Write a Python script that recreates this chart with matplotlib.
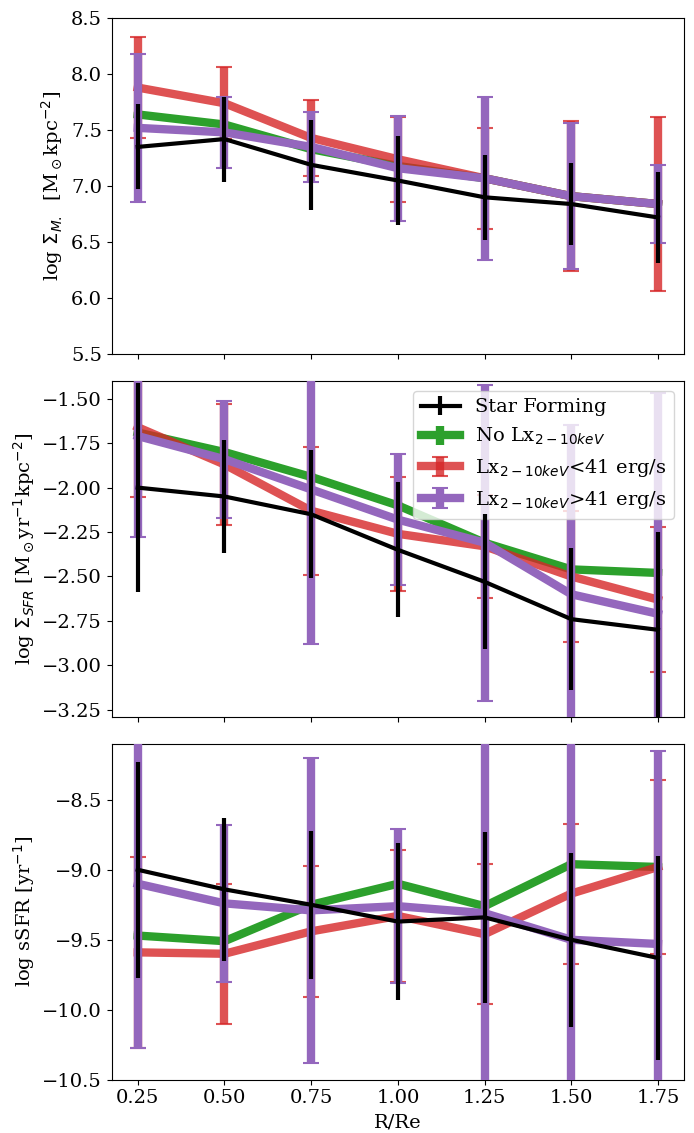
import matplotlib
matplotlib.use('Agg')
import matplotlib.pyplot as plt
import numpy as np

plt.rcParams['font.family'] = 'serif'
plt.rcParams['font.size'] = 14

r = [0.25, 0.50, 0.75, 1.00, 1.25, 1.50, 1.75]

# stellar mass surface density
sf_mass = [7.35, 7.42, 7.19, 7.05, 6.90, 6.84, 6.72]
sf_mass_err = [0.38, 0.38, 0.40, 0.40, 0.38, 0.37, 0.41]
nolx_mass = [7.64, 7.55, 7.33, 7.18, 7.07, 6.91, 6.84]
nolx_mass_err = [0.02, 0.02, 0.02, 0.02, 0.02, 0.02, 0.02]
lowlx_mass = [7.88, 7.74, 7.43, 7.24, 7.07, 6.91, 6.84]
lowlx_mass_err = [0.45, 0.32, 0.34, 0.38, 0.45, 0.67, 0.78]
hilx_mass = [7.52, 7.48, 7.35, 7.16, 7.07, 6.91, 6.84]
hilx_mass_err = [0.66, 0.32, 0.31, 0.47, 0.73, 0.65, 0.35]

# SFR surface density
sf_sfr = [-2.00, -2.05, -2.15, -2.35, -2.53, -2.74, -2.80]
sf_sfr_err = [0.59, 0.32, 0.36, 0.38, 0.38, 0.40, 0.55]
nolx_sfr = [-1.69, -1.80, -1.94, -2.10, -2.31, -2.46, -2.48]
nolx_sfr_err = [0.02, 0.02, 0.02, 0.02, 0.02, 0.02, 0.02]
lowlx_sfr = [-1.66, -1.87, -2.13, -2.26, -2.33, -2.50, -2.63]
lowlx_sfr_err = [0.39, 0.34, 0.36, 0.32, 0.29, 0.37, 0.41]
hilx_sfr = [-1.71, -1.84, -2.01, -2.18, -2.31, -2.60, -2.71]
hilx_sfr_err = [0.57, 0.33, 0.87, 0.37, 0.89, 0.95, 1.24]

# specific SFR
sf_ssfr = [-9.00, -9.14, -9.25, -9.37, -9.34, -9.50, -9.63]
sf_ssfr_err = [0.77, 0.51, 0.53, 0.56, 0.61, 0.62, 0.73]
nolx_ssfr = [-9.47, -9.51, -9.25, -9.10, -9.26, -8.96, -8.98]
nolx_ssfr_err = [0.02, 0.02, 0.02, 0.02, 0.02, 0.02, 0.02]
lowlx_ssfr = [-9.59, -9.60, -9.44, -9.33, -9.46, -9.17, -8.98]
lowlx_ssfr_err = [0.68, 0.50, 0.47, 0.47, 0.50, 0.50, 0.62]
hilx_ssfr = [-9.10, -9.24, -9.29, -9.26, -9.31, -9.50, -9.53]
hilx_ssfr_err = [1.17, 0.56, 1.09, 0.55, 1.50, 1.50, 1.38]

labels = ['Star Forming', r'No Lx$_{2-10keV}$',
          r'Lx$_{2-10keV}$<41 erg/s', r'Lx$_{2-10keV}$>41 erg/s']

panels = [
    (sf_mass, sf_mass_err, nolx_mass, nolx_mass_err, lowlx_mass, lowlx_mass_err, hilx_mass, hilx_mass_err),
    (sf_sfr, sf_sfr_err, nolx_sfr, nolx_sfr_err, lowlx_sfr, lowlx_sfr_err, hilx_sfr, hilx_sfr_err),
    (sf_ssfr, sf_ssfr_err, nolx_ssfr, nolx_ssfr_err, lowlx_ssfr, lowlx_ssfr_err, hilx_ssfr, hilx_ssfr_err),
]
ylabels = [r'log $\Sigma_{M.}$  [M$_\odot$kpc$^{-2}$]',
           r'log $\Sigma_{SFR}$ [M$_\odot$yr$^{-1}$kpc$^{-2}$]',
           r'log sSFR [yr$^{-1}$]']
ylims = [(5.5, 8.5), (-3.29, -1.40), (-10.5, -8.1)]

fig, axes = plt.subplots(3, 1, figsize=(6.94, 11.33), dpi=100, sharex=True)
plt.subplots_adjust(left=0.161, right=0.9856, top=0.984, bottom=0.047, hspace=0.08)

for ax, d, yl, lim in zip(axes, panels, ylabels, ylims):
    ax.errorbar(r, d[0], yerr=d[1], color='k', lw=3, elinewidth=3, capsize=0,
                zorder=6, label=labels[0])
    ax.errorbar(r, d[2], yerr=d[3], color='#2ca02c', lw=6, elinewidth=6, capsize=0,
                zorder=3, label=labels[1])
    ax.errorbar(r, d[4], yerr=d[5], color='#d62728', lw=6, elinewidth=6, capsize=5.5,
                capthick=1.5, alpha=0.8, zorder=4, label=labels[2])
    ax.errorbar(r, d[6], yerr=d[7], color='#9467bd', lw=6, elinewidth=6, capsize=5.5,
                capthick=1.5, zorder=5, label=labels[3])
    ax.set_ylabel(yl)
    ax.set_ylim(*lim)

axes[1].legend(loc='upper right', fontsize=14)
axes[2].set_xticks(r)
axes[2].set_xlabel('R/Re')

plt.savefig('out.png', dpi=100)
